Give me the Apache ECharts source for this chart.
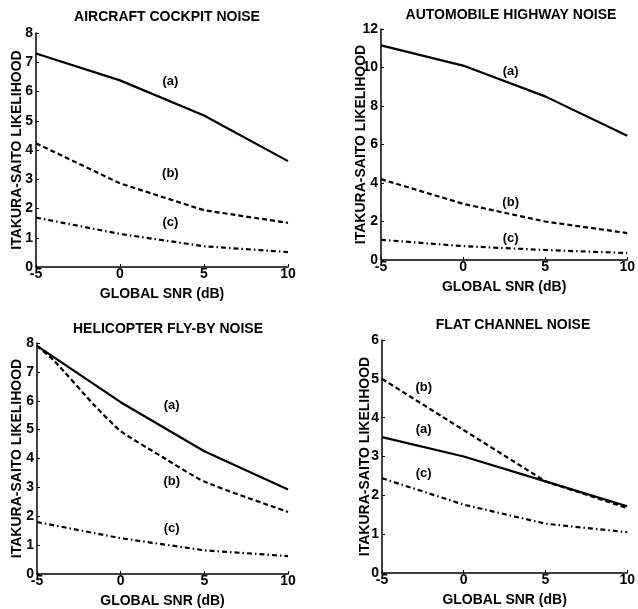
<!DOCTYPE html>
<html>
<head>
<meta charset="utf-8">
<script src="https://cdn.jsdelivr.net/npm/echarts@6/dist/echarts.min.js"></script>
<style>
html,body{margin:0;padding:0;background:#fff;}
#chart{width:638px;height:609px;}
</style>
</head>
<body>
<div id="chart"></div>
<script>
// global SNR (dB)
var snr        = [-5, 0, 5, 10];

// aircraft cockpit noise
var cockpitA   = [7.3, 6.38, 5.18, 3.62];
var cockpitB   = [4.23, 2.86, 1.94, 1.51];
var cockpitC   = [1.69, 1.13, 0.71, 0.51];

// automobile highway noise
var highwayA   = [11.15, 10.1, 8.5, 6.45];
var highwayB   = [4.2, 2.92, 2.0, 1.4];
var highwayC   = [1.05, 0.72, 0.52, 0.36];

// helicopter fly-by noise
var heliA      = [7.9, 5.95, 4.25, 2.93];
var heliBx     = [-5, -4, -1.5, 0, 2.5, 5, 10];
var heliB      = [7.9, 7.4, 5.8, 4.95, 4.05, 3.2, 2.15];
var heliC      = [1.8, 1.24, 0.82, 0.62];

// flat channel noise
var flatA      = [3.5, 3.0, 2.36, 1.72];
var flatB      = [5.0, 3.68, 2.36, 1.67];
var flatC      = [2.44, 1.76, 1.27, 1.05];

// curve labels (a),(b),(c) in data units
var labelText  = ['(a)', '(b)', '(c)'];
var cockpitLabX = [3.0, 3.0, 3.0],  cockpitLabY = [6.34, 3.2, 1.51];
var highwayLabX = [2.9, 2.9, 2.9],  highwayLabY = [9.79, 2.98, 1.13];
var heliLabX    = [3.05, 3.05, 3.05], heliLabY  = [5.85, 3.21, 1.58];
var flatLabX    = [-2.45, -2.45, -2.45], flatLabY = [3.70, 4.78, 2.57];

var titles     = ['AIRCRAFT COCKPIT NOISE', 'AUTOMOBILE HIGHWAY NOISE', 'HELICOPTER FLY-BY NOISE', 'FLAT CHANNEL NOISE'];
var yMax       = [8, 12, 8, 6];
var yStep      = [1, 2, 1, 1];

var FONT = '"Liberation Sans", Arial, Helvetica, sans-serif';

function pairs(xs, ys){
    var out = [];
    for(var i=0;i<ys.length;i++){
        out.push([xs[i], ys[i]]);
    }
    return out;
}

var grids = [
    {left:36,  top:33,  width:252, height:234},
    {left:381, top:29,  width:250, height:231},
    {left:37,  top:343, width:251, height:233},
    {left:382, top:340, width:251, height:233}
];
var titlePos = [[162, 5], [506, 3], [163, 317], [508, 313]];
var yNameGap = [12, 13, 13, 10];

var xAxes = [], yAxes = [], titleArr = [];
for(var g=0; g<4; g++){
    titleArr.push({
        text: titles[g],
        left: titlePos[g][0], top: titlePos[g][1],
        textAlign: 'center',
        textStyle: {fontFamily: FONT, fontSize: 14, fontWeight: 'bold', color: '#000'}
    });
    xAxes.push({
        type: 'value', gridIndex: g, min: -5, max: 10, interval: 5,
        name: 'GLOBAL SNR (dB)', nameLocation: 'middle', nameGap: 20, nameMoveOverlap: false,
        nameTextStyle: {fontFamily: FONT, fontSize: 14, fontWeight: 'bold', color: '#000'},
        axisLine: {show: true, onZero: false, lineStyle: {color: '#000', width: 1.5}},
        axisTick: {show: true, inside: true, length: 3, lineStyle: {color: '#000'}},
        axisLabel: {fontFamily: FONT, fontSize: 14, fontWeight: 'bold', color: '#000', margin: 0},
        splitLine: {show: false}
    });
    yAxes.push({
        type: 'value', gridIndex: g, min: 0, max: yMax[g], interval: yStep[g],
        name: 'ITAKURA-SAITO LIKELIHOOD', nameLocation: 'middle', nameGap: yNameGap[g], nameMoveOverlap: false,
        nameTextStyle: {fontFamily: FONT, fontSize: 14, fontWeight: 'bold', color: '#000'},
        axisLine: {show: true, onZero: false, lineStyle: {color: '#000', width: 1.5}},
        axisTick: {show: true, inside: true, length: 3, lineStyle: {color: '#000'}},
        axisLabel: {fontFamily: FONT, fontSize: 14, fontWeight: 'bold', color: '#000', margin: 3},
        splitLine: {show: false}
    });
}

function curve(g, data, kind){
    var ls = {color: '#000', width: 2.2};
    if(kind == 'b' || kind == 'hb'){ ls.type = [5, 3]; }
    if(kind == 'c'){ ls.type = [5, 3, 1.5, 3]; }
    return {
        type: 'line', xAxisIndex: g, yAxisIndex: g, data: data,
        showSymbol: false, symbol: 'none', smooth: kind == 'hb' ? 0.2 : false,
        lineStyle: ls,
        animation: false, silent: true
    };
}

function labels(g, xs, ys){
    var d = [];
    for(var i=0;i<xs.length;i++){
        d.push({value: [xs[i], ys[i]], name: labelText[i]});
    }
    return {
        type: 'scatter', xAxisIndex: g, yAxisIndex: g, data: d,
        symbolSize: 0, silent: true, animation: false,
        itemStyle: {opacity: 1},
        label: {show: true, position: 'inside', formatter: '{b}', opacity: 1,
                fontFamily: FONT, fontSize: 13, fontWeight: 'bold', color: '#000'}
    };
}

var series = [
    curve(0, pairs(snr, cockpitA), 'a'),
    curve(0, pairs(snr, cockpitB), 'b'),
    curve(0, pairs(snr, cockpitC), 'c'),
    labels(0, cockpitLabX, cockpitLabY),

    curve(1, pairs(snr, highwayA), 'a'),
    curve(1, pairs(snr, highwayB), 'b'),
    curve(1, pairs(snr, highwayC), 'c'),
    labels(1, highwayLabX, highwayLabY),

    curve(2, pairs(snr, heliA), 'a'),
    curve(2, pairs(heliBx, heliB), 'hb'),
    curve(2, pairs(snr, heliC), 'c'),
    labels(2, heliLabX, heliLabY),

    curve(3, pairs(snr, flatA), 'a'),
    curve(3, pairs(snr, flatB), 'b'),
    curve(3, pairs(snr, flatC), 'c'),
    labels(3, flatLabX, flatLabY)
];

var chart = echarts.init(document.getElementById('chart'));
chart.setOption({
    backgroundColor: '#fff',
    animation: false,
    title: titleArr,
    grid: grids,
    xAxis: xAxes,
    yAxis: yAxes,
    series: series
});
</script>
</body>
</html>
